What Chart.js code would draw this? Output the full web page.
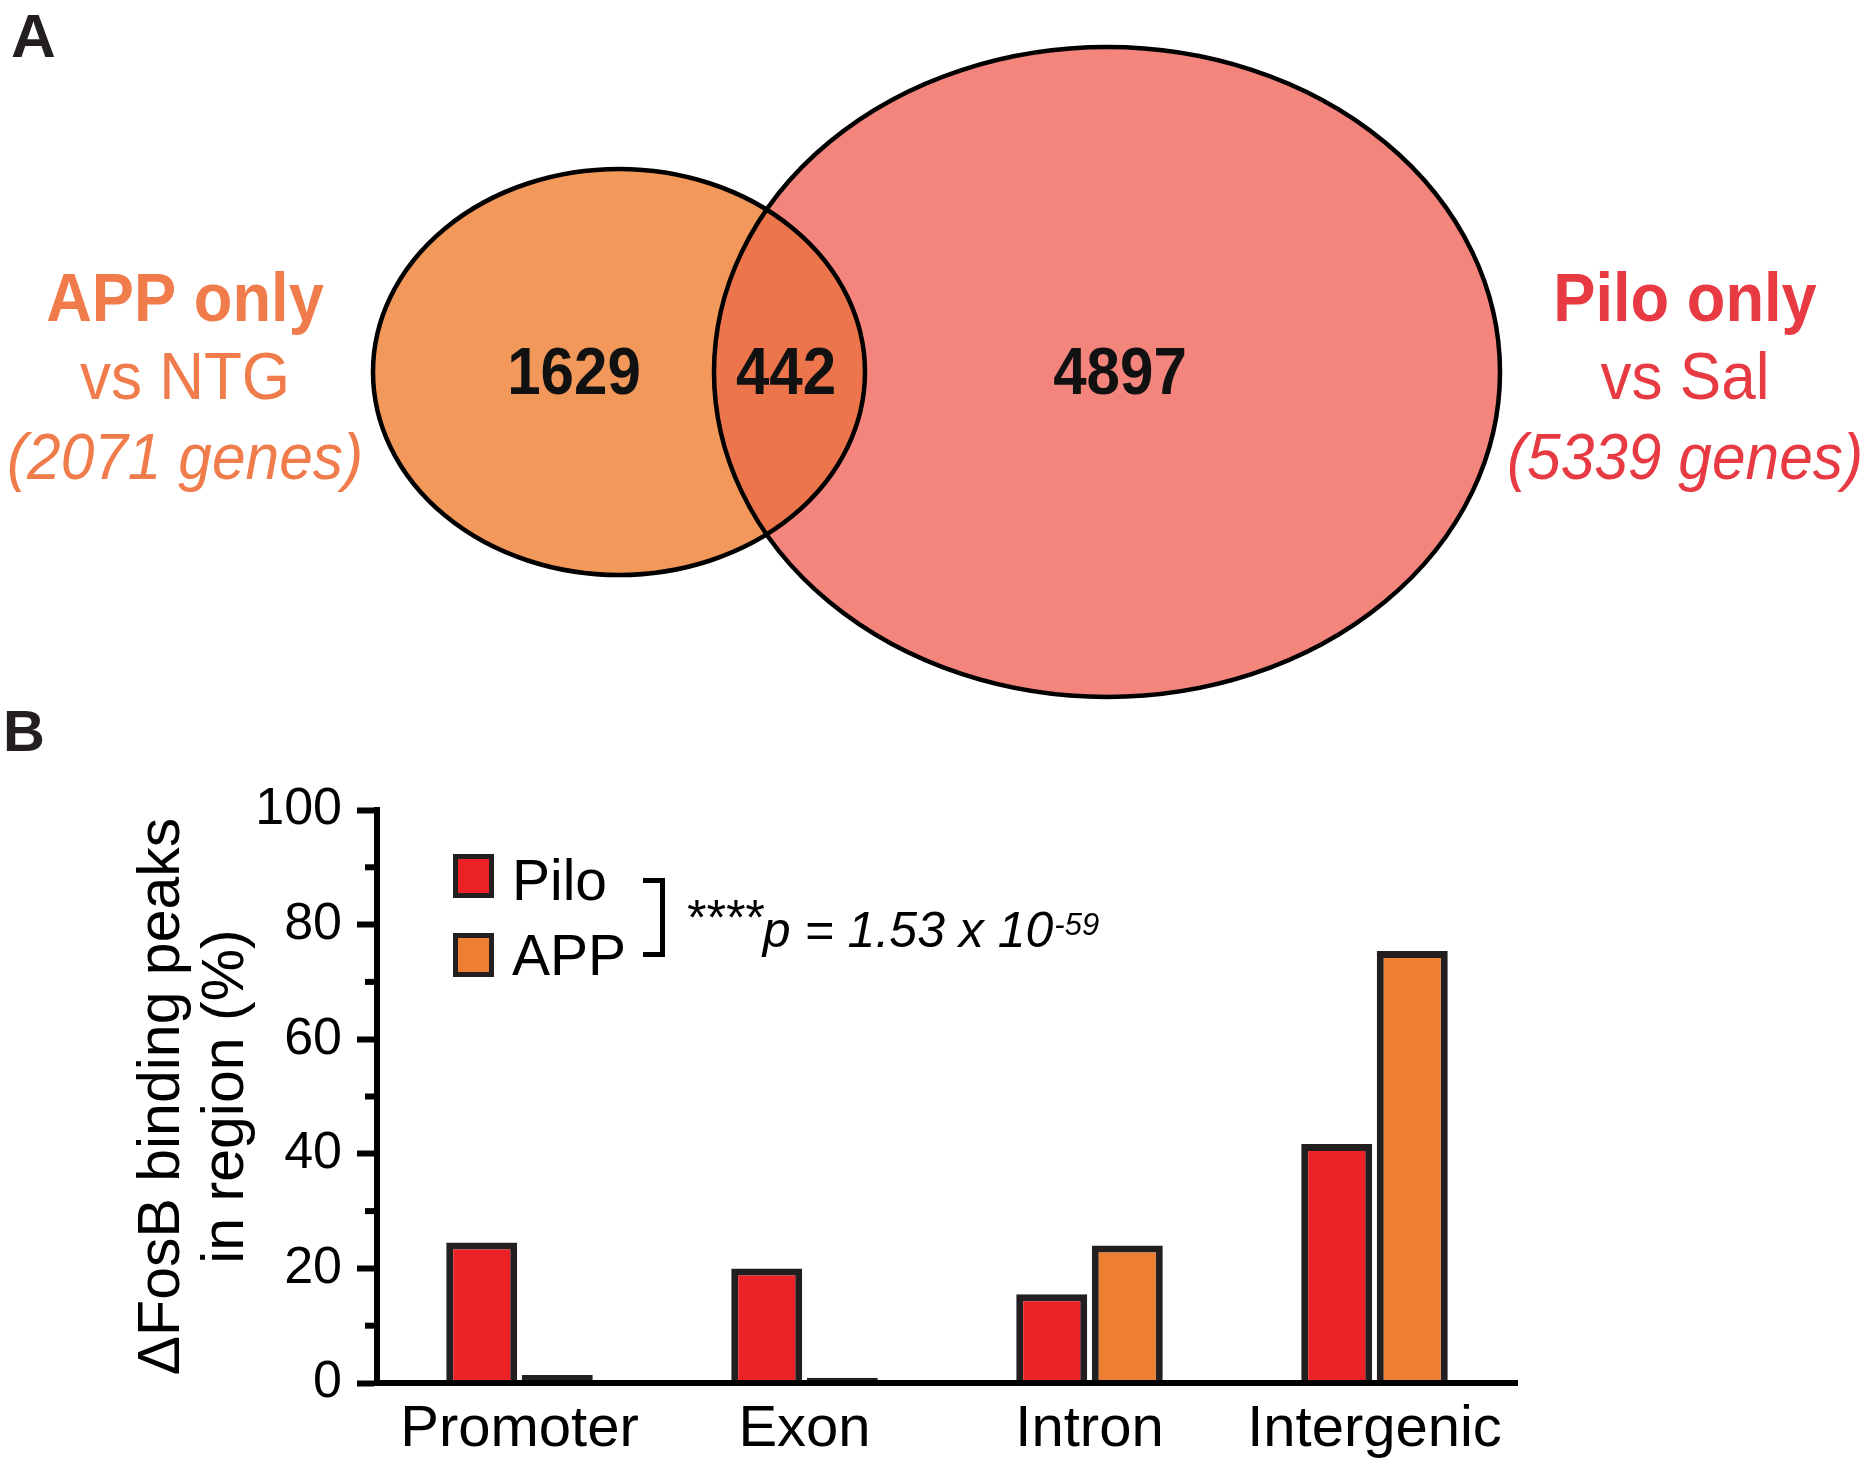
<!DOCTYPE html>
<html lang="en">
<head>
<meta charset="UTF-8">
<script src="https://cdn.jsdelivr.net/npm/chart.js"></script>
<style>
  body { margin: 0; background: #fff; width: 1870px; height: 1472px; position: relative; overflow: hidden; }
  canvas { position: absolute; left: 0; }
  #venn { top: 0; }
  #bars { top: 704px; }
</style>
</head>
<body>
<canvas id="venn" width="1870" height="704"></canvas>
<canvas id="bars" width="1870" height="768"></canvas>
<script>
// panel A - venn counts
const vennSets = ['APP only', 'Pilo only']
const vennVs = ['vs NTG', 'vs Sal']
const vennTotals = [2071, 5339]
const vennCounts = [1629, 442, 4897] // APP only, both, Pilo only

// panel B - peaks per region (%)
const regions = ['Promoter', 'Exon', 'Intron', 'Intergenic']
const piloPct = [24.5, 20.0, 15.5, 41.7]
const appPct = [1.4, 0.9, 24.0, 75.4]
const yMinorTicks = [10, 30, 50, 70, 90]
const pText = ['****', 'p = 1.53 x 10', '-59']

const FONT = '"Liberation Sans", Arial, Helvetica, sans-serif'
const INK = '#231F20'

// layout of the venn (in the venn chart's own units, 1 unit = 1px)
const vennShapes = [
  { cx: 619, cy: 372, rx: 246, ry: 203, fill: '#F1985A' },
  { cx: 1107, cy: 372, rx: 393, ry: 325, fill: '#F4857C' }
]
const overlapFill = '#ED754B'
const setColors = ['#F07B4B', '#E83A42']
const setLabelX = [185, 1685]
const countX = [574, 786, 1120]

function stretchText(ctx, text, x, y, font, color, sx, align) {
  ctx.save()
  ctx.translate(x, y)
  ctx.scale(sx, 1)
  ctx.font = font
  ctx.fillStyle = color
  ctx.textAlign = align || 'center'
  ctx.textBaseline = 'alphabetic'
  ctx.fillText(text, 0, 0)
  ctx.restore()
}

const vennDraw = {
  id: 'vennDraw',
  afterDraw(chart) {
    const ctx = chart.ctx
    const xs = chart.scales.x, ys = chart.scales.y
    const shapes = vennShapes.map(s => {
      const x = xs.getPixelForValue(s.cx), y = ys.getPixelForValue(s.cy)
      return { x, y,
        rx: Math.abs(xs.getPixelForValue(s.cx + s.rx) - x),
        ry: Math.abs(ys.getPixelForValue(s.cy + s.ry) - y),
        fill: s.fill }
    })
    const path = s => { ctx.beginPath(); ctx.ellipse(s.x, s.y, s.rx, s.ry, 0, 0, Math.PI * 2) }
    ctx.save()
    shapes.forEach(s => { path(s); ctx.fillStyle = s.fill; ctx.fill() })
    // overlap
    ctx.save()
    path(shapes[1]); ctx.clip()
    path(shapes[0]); ctx.fillStyle = overlapFill; ctx.fill()
    ctx.restore()
    ctx.lineWidth = 4.5
    ctx.strokeStyle = '#000'
    shapes.forEach(s => { path(s); ctx.stroke() })
    ctx.restore()

    // counts
    vennCounts.forEach((c, i) => {
      stretchText(ctx, String(c), countX[i], ys.getPixelForValue(394), 'bold 66px ' + FONT, '#111', 0.91)
    })
    // set labels
    vennSets.forEach((name, i) => {
      const col = setColors[i]
      stretchText(ctx, name, setLabelX[i], 321, 'bold 68px ' + FONT, col, 0.93)
      stretchText(ctx, vennVs[i], setLabelX[i], 399, '66px ' + FONT, col, 0.94)
      stretchText(ctx, '(' + vennTotals[i] + ' genes)', setLabelX[i], 479, 'italic 65px ' + FONT, col, 0.93)
    })
    stretchText(ctx, 'A', 11, 57, 'bold 62px ' + FONT, INK, 1, 'left')
  }
}

new Chart(document.getElementById('venn'), {
  type: 'scatter',
  data: { datasets: [{ data: [] }] },
  options: {
    responsive: false, animation: false, devicePixelRatio: 1,
    layout: { padding: 0 },
    plugins: { legend: { display: false }, tooltip: { enabled: false } },
    scales: {
      x: { type: 'linear', min: 0, max: 1870, display: false },
      y: { type: 'linear', min: 0, max: 704, reverse: true, display: false }
    }
  },
  plugins: [vennDraw]
})

const minorTicks = {
  id: 'minorTicks',
  afterDraw(chart) {
    const ctx = chart.ctx, y = chart.scales.y, left = chart.chartArea.left
    ctx.save()
    ctx.strokeStyle = '#000'
    ctx.lineWidth = 6
    yMinorTicks.forEach(v => {
      const py = y.getPixelForValue(v)
      ctx.beginPath(); ctx.moveTo(left - 12, py); ctx.lineTo(left, py); ctx.stroke()
    })
    ctx.restore()
  }
}

// legend, bracket and p value
const legendBox = { x: 453, tops: [150, 229], w: 41, h: 44, textX: 512, baselines: [196, 271] }
const legendNote = {
  id: 'legendNote',
  afterDraw(chart) {
    const ctx = chart.ctx
    ctx.save()
    chart.data.datasets.forEach((ds, i) => {
      const t = legendBox.tops[i]
      ctx.fillStyle = ds.backgroundColor
      ctx.fillRect(legendBox.x, t, legendBox.w, legendBox.h)
      ctx.lineWidth = 5
      ctx.strokeStyle = INK
      ctx.strokeRect(legendBox.x + 2.5, t + 2.5, legendBox.w - 5, legendBox.h - 5)
      stretchText(ctx, ds.label, legendBox.textX, legendBox.baselines[i], '57px ' + FONT, '#000', 1, 'left')
    })
    // bracket
    ctx.lineWidth = 5
    ctx.strokeStyle = '#000'
    ctx.beginPath()
    ctx.moveTo(643, 176.5); ctx.lineTo(662.5, 176.5); ctx.lineTo(662.5, 250.5); ctx.lineTo(643, 250.5)
    ctx.stroke()
    // p value
    ctx.textAlign = 'left'
    ctx.textBaseline = 'alphabetic'
    ctx.fillStyle = '#000'
    let x = 685
    ctx.font = 'italic 50px ' + FONT
    ctx.fillText(pText[0], x, 231)
    x += ctx.measureText(pText[0]).width
    ctx.fillText(pText[1], x, 243)
    x += ctx.measureText(pText[1]).width + 1
    ctx.font = 'italic 31px ' + FONT
    ctx.fillText(pText[2], x, 231)
    // panel letter
    stretchText(ctx, 'B', 3, 47, 'bold 58px ' + FONT, INK, 1, 'left')
    ctx.restore()
  }
}

const skip = c => (c.raw < 3 ? false : 'start')

new Chart(document.getElementById('bars'), {
  type: 'bar',
  data: {
    labels: regions,
    datasets: [
      { label: 'Pilo', data: piloPct, backgroundColor: '#EC2227', borderColor: INK, borderWidth: 7,
        borderSkipped: skip, categoryPercentage: 0.53, barPercentage: 0.94 },
      { label: 'APP', data: appPct, backgroundColor: '#EE7F32', borderColor: INK, borderWidth: 7,
        borderSkipped: skip, categoryPercentage: 0.53, barPercentage: 0.94 }
    ]
  },
  options: {
    responsive: false, animation: false, devicePixelRatio: 1,
    layout: { padding: { top: 106, right: 353, left: 0, bottom: 0 } },
    plugins: { legend: { display: false }, tooltip: { enabled: false } },
    scales: {
      x: {
        grid: { display: false, drawTicks: false },
        border: { color: '#000', width: 6, z: 1 },
        ticks: { font: { family: FONT, size: 58 }, color: '#000', padding: 12 },
        afterFit: s => { s.height = 89 }
      },
      y: {
        min: 0, max: 100,
        ticks: { stepSize: 20, font: { family: FONT, size: 52 }, color: '#000', padding: 15 },
        grid: { drawOnChartArea: false, tickLength: 20, tickWidth: 6, tickColor: '#000' },
        border: { color: '#000', width: 6, z: 1 },
        title: {
          display: true, text: ['\u0394FosB binding peaks', 'in region (%)'],
          font: { family: FONT, size: 59, lineHeight: 1.08 }, color: '#000', padding: { top: 131, bottom: 0 }
        },
        afterFit: s => { s.width = 377 }
      }
    }
  },
  plugins: [minorTicks, legendNote]
})
</script>
</body>
</html>
